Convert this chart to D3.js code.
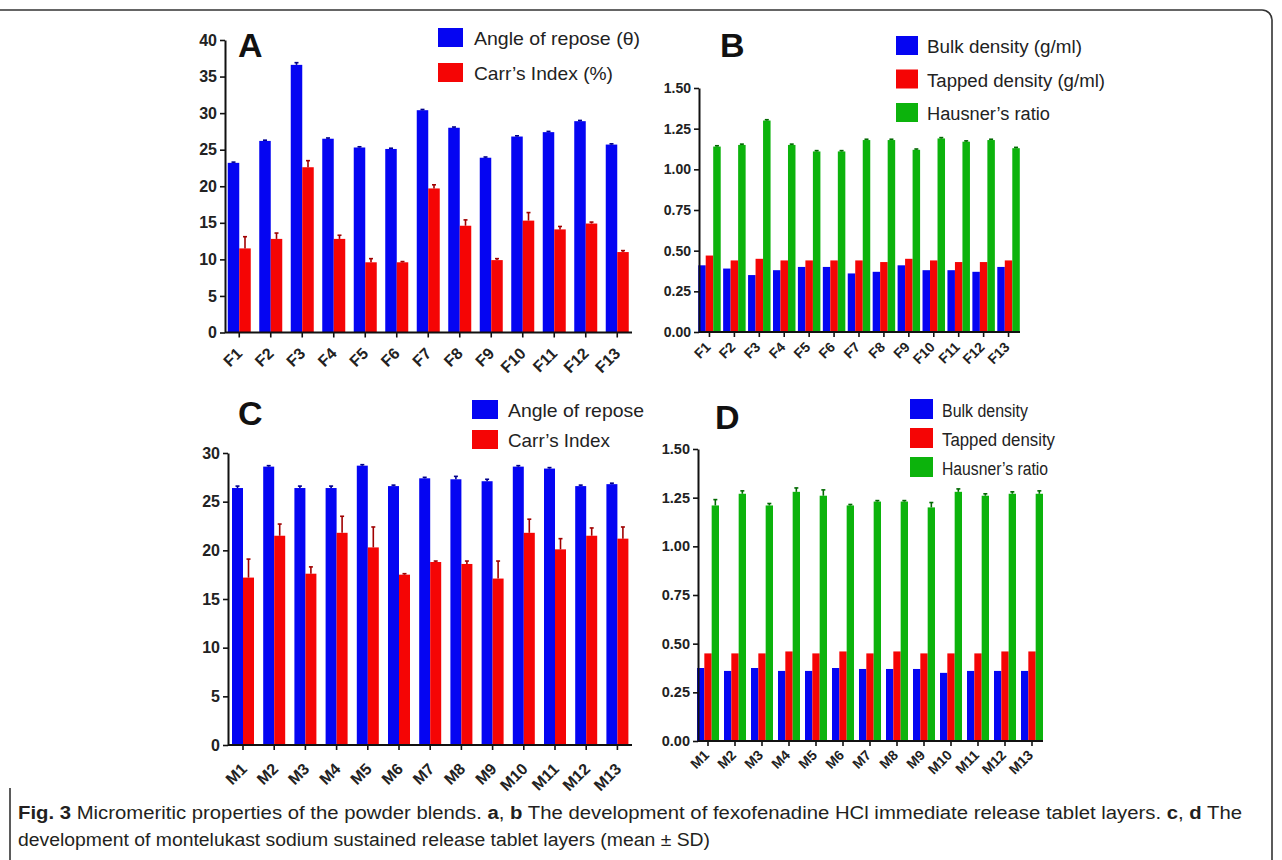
<!DOCTYPE html>
<html>
<head>
<meta charset="utf-8">
<script src="https://cdn.jsdelivr.net/npm/d3@7"></script>
<style>
  body { margin: 0; background: #fff; }
  svg { display: block; font-family: 'Liberation Sans', Arial, sans-serif; }
</style>
</head>
<body>
<script>
// ---- data ----
const fLabels = ['F1', 'F2', 'F3', 'F4', 'F5', 'F6', 'F7', 'F8', 'F9', 'F10', 'F11', 'F12', 'F13'];
const mLabels = ['M1', 'M2', 'M3', 'M4', 'M5', 'M6', 'M7', 'M8', 'M9', 'M10', 'M11', 'M12', 'M13'];

// panel A
const aAngle   = [23.2, 26.2, 36.6, 26.5, 25.3, 25.1, 30.4, 28.0, 23.9, 26.8, 27.4, 28.9, 25.7];
const aAngleSd = [0.1, 0.1, 0.3, 0.1, 0.1, 0.1, 0.1, 0.1, 0.1, 0.1, 0.1, 0.1, 0.1];
const aCarr    = [11.5, 12.8, 22.6, 12.8, 9.6, 9.6, 19.7, 14.6, 9.9, 15.3, 14.1, 14.9, 11.0];
const aCarrSd  = [1.6, 0.8, 0.9, 0.5, 0.5, 0.1, 0.5, 0.8, 0.2, 1.1, 0.4, 0.2, 0.2];

// panel B
const bBulk    = [0.41, 0.39, 0.35, 0.38, 0.40, 0.40, 0.36, 0.37, 0.41, 0.38, 0.38, 0.37, 0.40];
const bTapped  = [0.47, 0.44, 0.45, 0.44, 0.44, 0.44, 0.44, 0.43, 0.45, 0.44, 0.43, 0.43, 0.44];
const bHausner = [1.14, 1.15, 1.30, 1.15, 1.11, 1.11, 1.18, 1.18, 1.12, 1.19, 1.17, 1.18, 1.13];
const bHausnerSd = [0.005, 0.005, 0.005, 0.005, 0.005, 0.005, 0.005, 0.005, 0.005, 0.005, 0.005, 0.005, 0.005];

// panel C
const cAngle   = [26.4, 28.6, 26.4, 26.4, 28.7, 26.6, 27.4, 27.3, 27.1, 28.6, 28.4, 26.6, 26.8];
const cAngleSd = [0.2, 0.1, 0.2, 0.2, 0.1, 0.1, 0.1, 0.3, 0.2, 0.1, 0.1, 0.1, 0.1];
const cCarr    = [17.2, 21.5, 17.6, 21.8, 20.3, 17.5, 18.8, 18.6, 17.1, 21.8, 20.1, 21.5, 21.2];
const cCarrSd  = [1.9, 1.2, 0.7, 1.7, 2.1, 0.1, 0.1, 0.3, 1.8, 1.4, 1.1, 0.8, 1.2];

// panel D
const dBulk    = [0.375, 0.36, 0.375, 0.36, 0.36, 0.375, 0.37, 0.37, 0.37, 0.35, 0.36, 0.36, 0.36];
const dTapped  = [0.45, 0.45, 0.45, 0.46, 0.45, 0.46, 0.45, 0.46, 0.45, 0.45, 0.45, 0.46, 0.46];
const dHausner = [1.21, 1.27, 1.21, 1.28, 1.26, 1.21, 1.23, 1.23, 1.20, 1.28, 1.26, 1.27, 1.27];
const dHausnerSd = [0.03, 0.015, 0.01, 0.02, 0.03, 0.005, 0.005, 0.005, 0.025, 0.015, 0.01, 0.01, 0.015];

const ticksAngle = [0, 5, 10, 15, 20, 25, 30, 35, 40];
const ticksAngleC = [0, 5, 10, 15, 20, 25, 30];
const ticksDensity = [0, 0.25, 0.5, 0.75, 1.0, 1.25, 1.5];

const blue = '#0505f2', red = '#f50505', green = '#0cb30c';
const darkOf = { [blue]: '#00008c', [red]: '#a00000', [green]: '#006a00' };

const svg = d3.select('body')
              .append('svg')
              .attr('width', 1282)
              .attr('height', 860);

// frame of the figure box
svg.append('path')
   .attr('d', 'M0,10 H1262 A10,10 0 0 1 1272,20 V860 M10,788 V860')
   .attr('fill', 'none')
   .attr('stroke', '#333')
   .attr('stroke-width', 1.6);

function panel(cfg) {
  const g = svg.append('g');

  const x0 = d3.scaleBand()
               .domain(cfg.labels)
               .range(cfg.xRange);
  const x1 = d3.scaleBand()
               .domain(d3.range(cfg.series.length))
               .range([0, cfg.group]);
  const y = d3.scaleLinear()
              .domain([0, cfg.yMax])
              .range([cfg.yBottom, cfg.yTop]);

  const barX = (i, k) => x0(cfg.labels[i]) + (x0.bandwidth() - cfg.group) / 2 + x1(k);

  cfg.series.forEach((s, k) => {
    g.append('g')
     .selectAll('rect')
     .data(s.values)
     .join('rect')
     .attr('x', (d, i) => barX(i, k))
     .attr('y', d => y(d))
     .attr('width', x1.bandwidth())
     .attr('height', d => y(0) - y(d))
     .attr('fill', s.color);

    if (s.sd) {
      const eb = g.append('g')
                  .attr('stroke', darkOf[s.color])
                  .attr('stroke-width', 1.6);
      s.values.forEach((v, i) => {
        const cx = barX(i, k) + x1.bandwidth() / 2;
        eb.append('line')
          .attr('x1', cx).attr('x2', cx)
          .attr('y1', y(v)).attr('y2', y(v + s.sd[i]));
        eb.append('line')
          .attr('x1', cx - 2).attr('x2', cx + 2)
          .attr('y1', y(v + s.sd[i])).attr('y2', y(v + s.sd[i]));
      });
    }
  });

  // y axis
  const yAxis = g.append('g')
                 .attr('transform', `translate(${cfg.axisX},0)`)
                 .call(d3.axisLeft(y)
                         .tickValues(cfg.ticks)
                         .tickFormat(cfg.fmt)
                         .tickSize(5)
                         .tickSizeOuter(0)
                         .tickPadding(3));
  yAxis.select('.domain').attr('stroke-width', 2).attr('stroke', '#111');
  yAxis.selectAll('.tick line').attr('stroke-width', 1.6).attr('stroke', '#111');
  yAxis.selectAll('text')
       .attr('font-size', cfg.yFont)
       .attr('font-weight', 'bold')
       .attr('fill', '#222');

  // x axis
  const xAxis = g.append('g')
                 .attr('transform', `translate(0,${y(0)})`)
                 .call(d3.axisBottom(x0).tickSize(5).tickSizeOuter(0));
  xAxis.select('.domain').remove();
  xAxis.append('line')
       .attr('x1', cfg.axisX).attr('x2', cfg.xEnd)
       .attr('stroke', '#111').attr('stroke-width', 2);
  xAxis.selectAll('.tick line').attr('stroke-width', 1.6).attr('stroke', '#111');
  xAxis.selectAll('text')
       .attr('font-size', cfg.xFont)
       .attr('font-weight', 'bold')
       .attr('fill', '#222')
       .attr('text-anchor', 'end')
       .attr('x', 0).attr('y', 0).attr('dy', 0)
       .attr('transform', `translate(${cfg.labelDx},${cfg.labelDy}) rotate(-45)`);

  // panel letter
  g.append('text')
   .attr('x', cfg.letterPos[0])
   .attr('y', cfg.letterPos[1])
   .attr('font-size', 34)
   .attr('font-weight', 'bold')
   .attr('fill', '#111')
   .text(cfg.letter);

  // legend
  const lg = g.append('g');
  cfg.legend.items.forEach((it, k) => {
    const top = cfg.legend.y + k * cfg.legend.step;
    lg.append('rect')
      .attr('x', cfg.legend.x).attr('y', top)
      .attr('width', cfg.legend.w).attr('height', cfg.legend.h)
      .attr('fill', cfg.series[k].color);
    lg.append('text')
      .attr('x', cfg.legend.tx)
      .attr('y', top + cfg.legend.h - 2)
      .attr('font-size', cfg.legend.font)
      .attr('fill', '#222')
      .attr('textLength', it[1])
      .attr('lengthAdjust', 'spacingAndGlyphs')
      .text(it[0]);
  });
}

panel({
  labels: fLabels, xRange: [223.5, 633], group: 23, axisX: 225, xEnd: 632,
  yMax: 40, yTop: 40, yBottom: 332.5, ticks: ticksAngle, fmt: d3.format('d'),
  yFont: 16, xFont: 16, labelDx: 4, labelDy: 22,
  series: [{ values: aAngle, sd: aAngleSd, color: blue },
           { values: aCarr, sd: aCarrSd, color: red }],
  letter: 'A', letterPos: [238, 57],
  legend: { x: 438, y: 28, step: 35, w: 25, h: 19, tx: 474, font: 19,
            items: [['Angle of repose (\u03b8)', 166], ['Carr\u2019s Index (%)', 139]] }
});

panel({
  labels: fLabels, xRange: [697, 1021], group: 22.5, axisX: 699, xEnd: 1020,
  yMax: 1.5, yTop: 88, yBottom: 332, ticks: ticksDensity, fmt: d3.format('.2f'),
  yFont: 14, xFont: 14, labelDx: 2, labelDy: 16,
  series: [{ values: bBulk, color: blue },
           { values: bTapped, color: red },
           { values: bHausner, sd: bHausnerSd, color: green }],
  letter: 'B', letterPos: [720, 57],
  legend: { x: 896, y: 36, step: 33.5, w: 22, h: 19, tx: 927, font: 18,
            items: [['Bulk density  (g/ml)', 155], ['Tapped density (g/ml)', 178], ['Hausner\u2019s ratio', 123]] }
});

panel({
  labels: mLabels, xRange: [227.4, 633], group: 22, axisX: 228, xEnd: 632,
  yMax: 30, yTop: 453, yBottom: 745, ticks: ticksAngleC, fmt: d3.format('d'),
  yFont: 16, xFont: 16, labelDx: 5, labelDy: 25,
  series: [{ values: cAngle, sd: cAngleSd, color: blue },
           { values: cCarr, sd: cCarrSd, color: red }],
  letter: 'C', letterPos: [238, 425],
  legend: { x: 472, y: 400, step: 30, w: 26, h: 19, tx: 508, font: 19,
            items: [['Angle of repose', 136], ['Carr\u2019s Index', 102]] }
});

panel({
  labels: mLabels, xRange: [694.5, 1045.5], group: 22, axisX: 698, xEnd: 1043,
  yMax: 1.5, yTop: 449, yBottom: 741, ticks: ticksDensity, fmt: d3.format('.2f'),
  yFont: 14.5, xFont: 14, labelDx: 2, labelDy: 15,
  series: [{ values: dBulk, color: blue },
           { values: dTapped, color: red },
           { values: dHausner, sd: dHausnerSd, color: green }],
  letter: 'D', letterPos: [715, 429],
  legend: { x: 910, y: 399, step: 29, w: 23, h: 20, tx: 942, font: 18,
            items: [['Bulk density', 86], ['Tapped density', 113], ['Hausner\u2019s ratio', 106]] }
});

// caption
const cap = svg.append('g')
               .attr('font-size', 18)
               .attr('fill', '#231f20');
const line1 = cap.append('text')
                 .attr('x', 18).attr('y', 819)
                 .attr('textLength', 1224)
                 .attr('lengthAdjust', 'spacingAndGlyphs');
[['Fig. 3', true], [' Micromeritic properties of the powder blends. ', false], ['a', true], [', ', false],
 ['b', true], [' The development of fexofenadine HCl immediate release tablet layers. ', false],
 ['c', true], [', ', false], ['d', true], [' The', false]]
  .forEach(p => line1.append('tspan').attr('font-weight', p[1] ? 'bold' : 'normal').text(p[0]));
cap.append('text')
   .attr('x', 18).attr('y', 846)
   .attr('textLength', 692)
   .attr('lengthAdjust', 'spacingAndGlyphs')
   .text('development of montelukast sodium sustained release tablet layers (mean \u00b1 SD)');
</script>
</body>
</html>
